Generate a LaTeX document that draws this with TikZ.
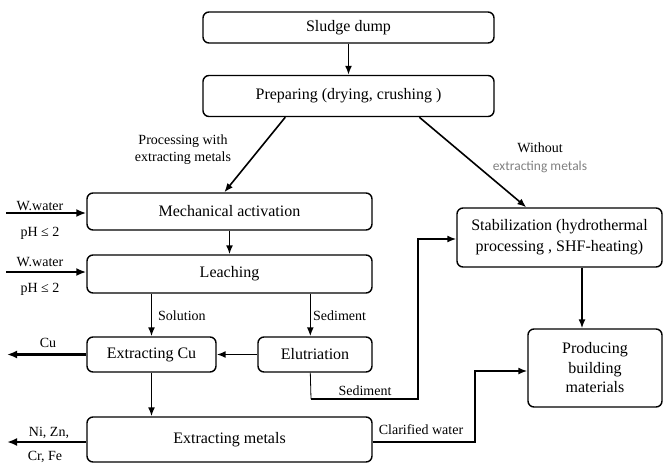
\documentclass[tikz,border=0pt]{standalone}
\usepackage{fontspec}
\setmainfont{Liberation Serif}
\newfontfamily\calibri{Carlito}
\usetikzlibrary{arrows.meta}
\begin{document}
\begin{tikzpicture}[x=1pt,y=-1pt,
  box/.style={draw,line width=1.4pt,rounded corners=6pt,align=center,inner sep=0pt,
    font=\fontsize{16}{21}\selectfont},
  lbl/.style={font=\fontsize{14}{17}\selectfont,inner sep=0pt,align=center},
  conn/.style={line width=1.6pt,-{Latex[length=9pt,width=7pt]}},
  thick conn/.style={line width=2.6pt,-{Latex[length=10pt,width=8pt]}}
]
\useasboundingbox (0,0) rectangle (664,466);
% boxes
\node[box,minimum width=291pt,minimum height=31pt] (sludge) at (348.5,27.5) {Sludge dump};
\node[box,minimum width=291pt,minimum height=41pt] (prep) at (348.5,96) {Preparing (drying, crushing )};
\node[box,minimum width=285pt,minimum height=37pt] (mech) at (229.5,211.5) {Mechanical activation};
\node[box,minimum width=285pt,minimum height=38pt] (leach) at (229.5,274) {Leaching};
\node[box,minimum width=129pt,minimum height=35pt] (cu) at (151.5,354.5) {Extracting Cu};
\node[box,minimum width=114pt,minimum height=35pt] (elut) at (315,354.5) {Elutriation};
\node[box,minimum width=285pt,minimum height=45pt] (metals) at (229.5,439.5) {Extracting metals};
\node[box,minimum width=205pt,minimum height=59pt] (stab) at (559.5,237.5) {Stabilization (hydrothermal\\processing , SHF-heating)};
\node[box,minimum width=134pt,minimum height=78pt,font=\fontsize{16}{19.5}\selectfont] (prod) at (595,368) {Producing\\building\\materials};
% free ends
\coordinate (w1) at (6,213);
\coordinate (w2) at (6,272);
\coordinate (cuout) at (7,354.5);
\coordinate (mout) at (7,442);
\coordinate (sedA) at (311,399);
\coordinate (sedB) at (418,399);
\coordinate (sedC) at (418,239);
\coordinate (clA) at (475,442);
\coordinate (clB) at (475,371);
% connectors
\draw[conn] (sludge.south) -- (prep.north);
\draw[conn] ([xshift=83pt]prep.south west) -- ([xshift=138pt]mech.north west);
\draw[conn] ([xshift=217pt]prep.south west) -- ([xshift=70pt]stab.north west);
\draw[thick conn] (w1) -- (w1 -| mech.west);
\draw[thick conn] (w2) -- (w2 -| leach.west);
\draw[conn] (mech.south) -- (leach.north);
\draw[conn] (cu.north |- leach.south) -- (cu.north);
\draw[conn] ([xshift=53pt]elut.north west |- leach.south) -- ([xshift=53pt]elut.north west);
\draw[conn] (elut.west) -- (cu.east);
\draw[thick conn] (cu.west) -- (cuout);
\draw[conn] (cu.south) -- (cu.south |- metals.north);
\draw[thick conn] (mout -| metals.west) -- (mout);
\draw[line width=0.8pt] ([xshift=53pt]elut.south west) -- (sedA);
\draw[conn] (sedA) -- (sedB) -- (sedC) -- (sedC -| stab.west);
\draw[conn] (clA -| metals.east) -- (clA) -- (clB) -- (clB -| prod.west);
\draw[conn] (582,0 |- stab.south) -- (582,0 |- prod.north);
% labels
\node[lbl] (l1) at (183,150) {Processing with\\extracting metals};
\node[lbl] (l2) at (540,148) {Without};
\node[lbl,font=\calibri\fontsize{13.5}{16}\selectfont,text=black!50] (l3) at (540,167) {extracting metals};
\node[lbl] (l4) at (40,206) {W.water};
\node[lbl] (l5) at (40,233) {pH ≤ 2};
\node[lbl] (l6) at (40,262) {W.water};
\node[lbl] (l7) at (40,289) {pH ≤ 2};
\node[lbl,anchor=west] (l8) at (158,316) {Solution};
\node[lbl,anchor=west] (l9) at (313,316) {Sediment};
\node[lbl] (l10) at (48,343) {Cu};
\node[lbl] (l11) at (365,391) {Sediment};
\node[lbl] (l12) at (49,433) {Ni, Zn,};
\node[lbl] (l13) at (45,457) {Cr, Fe};
\node[lbl] (l14) at (421,430) {Clarified water};
\end{tikzpicture}
\end{document}
